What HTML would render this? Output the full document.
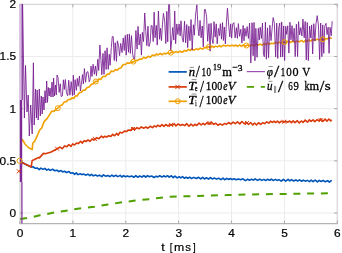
<!DOCTYPE html>
<html><head><meta charset="utf-8"><style>html,body{margin:0;padding:0;background:#fff;overflow:hidden}svg{display:block}</style></head>
<body><div style="will-change:transform"><svg width="342" height="253" viewBox="0 0 342 253">
<defs><clipPath id="cp"><rect x="18.5" y="4.3" width="318.7" height="219.3"/></clipPath></defs>
<rect width="342" height="253" fill="#fff"/>
<line x1="72.85" y1="4" x2="72.85" y2="223.6" stroke="#ececec" stroke-width="1"/>
<line x1="125.75" y1="4" x2="125.75" y2="223.6" stroke="#ececec" stroke-width="1"/>
<line x1="178.65" y1="4" x2="178.65" y2="223.6" stroke="#ececec" stroke-width="1"/>
<line x1="231.55" y1="4" x2="231.55" y2="223.6" stroke="#ececec" stroke-width="1"/>
<line x1="284.45" y1="4" x2="284.45" y2="223.6" stroke="#ececec" stroke-width="1"/>
<line x1="20.2" y1="213.00" x2="337.2" y2="213.00" stroke="#ececec" stroke-width="1"/>
<line x1="20.2" y1="160.84" x2="337.2" y2="160.84" stroke="#ececec" stroke-width="1"/>
<line x1="20.2" y1="108.67" x2="337.2" y2="108.67" stroke="#ececec" stroke-width="1"/>
<line x1="20.2" y1="56.50" x2="337.2" y2="56.50" stroke="#ececec" stroke-width="1"/>
<line x1="19.5" y1="4.3" x2="337.7" y2="4.3" stroke="#cdcdcd" stroke-width="1"/>
<line x1="337.2" y1="3.8" x2="337.2" y2="224.1" stroke="#cdcdcd" stroke-width="1"/>
<line x1="19.5" y1="223.6" x2="337.7" y2="223.6" stroke="#b4b4b4" stroke-width="1.1"/>
<line x1="20.0" y1="3.8" x2="20.0" y2="224.1" stroke="#c8c8c8" stroke-width="1"/>
<line x1="19.95" y1="223.6" x2="19.95" y2="220.6" stroke="#a8a8a8" stroke-width="1"/>
<line x1="19.95" y1="4.3" x2="19.95" y2="7.3" stroke="#a8a8a8" stroke-width="1"/>
<line x1="72.85" y1="223.6" x2="72.85" y2="220.6" stroke="#a8a8a8" stroke-width="1"/>
<line x1="72.85" y1="4.3" x2="72.85" y2="7.3" stroke="#a8a8a8" stroke-width="1"/>
<line x1="125.75" y1="223.6" x2="125.75" y2="220.6" stroke="#a8a8a8" stroke-width="1"/>
<line x1="125.75" y1="4.3" x2="125.75" y2="7.3" stroke="#a8a8a8" stroke-width="1"/>
<line x1="178.65" y1="223.6" x2="178.65" y2="220.6" stroke="#a8a8a8" stroke-width="1"/>
<line x1="178.65" y1="4.3" x2="178.65" y2="7.3" stroke="#a8a8a8" stroke-width="1"/>
<line x1="231.55" y1="223.6" x2="231.55" y2="220.6" stroke="#a8a8a8" stroke-width="1"/>
<line x1="231.55" y1="4.3" x2="231.55" y2="7.3" stroke="#a8a8a8" stroke-width="1"/>
<line x1="284.45" y1="223.6" x2="284.45" y2="220.6" stroke="#a8a8a8" stroke-width="1"/>
<line x1="284.45" y1="4.3" x2="284.45" y2="7.3" stroke="#a8a8a8" stroke-width="1"/>
<line x1="337.35" y1="223.6" x2="337.35" y2="220.6" stroke="#a8a8a8" stroke-width="1"/>
<line x1="337.35" y1="4.3" x2="337.35" y2="7.3" stroke="#a8a8a8" stroke-width="1"/>
<line x1="20.0" y1="213.00" x2="23.0" y2="213.00" stroke="#a8a8a8" stroke-width="1"/>
<line x1="337.2" y1="213.00" x2="334.2" y2="213.00" stroke="#a8a8a8" stroke-width="1"/>
<line x1="20.0" y1="160.84" x2="23.0" y2="160.84" stroke="#a8a8a8" stroke-width="1"/>
<line x1="337.2" y1="160.84" x2="334.2" y2="160.84" stroke="#a8a8a8" stroke-width="1"/>
<line x1="20.0" y1="108.67" x2="23.0" y2="108.67" stroke="#a8a8a8" stroke-width="1"/>
<line x1="337.2" y1="108.67" x2="334.2" y2="108.67" stroke="#a8a8a8" stroke-width="1"/>
<line x1="20.0" y1="56.50" x2="23.0" y2="56.50" stroke="#a8a8a8" stroke-width="1"/>
<line x1="337.2" y1="56.50" x2="334.2" y2="56.50" stroke="#a8a8a8" stroke-width="1"/>
<line x1="20.0" y1="4.34" x2="23.0" y2="4.34" stroke="#a8a8a8" stroke-width="1"/>
<line x1="337.2" y1="4.34" x2="334.2" y2="4.34" stroke="#a8a8a8" stroke-width="1"/>
<g clip-path="url(#cp)"><polyline points="20.20,218.90 27.00,218.00 32.90,216.90 39.90,215.30 46.90,214.10 55.10,212.20 60.90,211.50 68.00,210.40 73.80,209.20 81.30,208.20 87.80,207.50 94.40,206.80 100.80,205.70 107.90,204.60 114.90,203.40 121.90,202.20 128.90,201.50 135.20,200.60 141.80,199.90 149.30,199.20 156.30,198.20 163.30,197.50 169.40,196.80 195.00,196.00 227.90,195.10 260.00,194.20 293.00,193.80 328.80,193.30" fill="none" stroke="#50a000" stroke-width="2.0" stroke-dasharray="6.95 6.8"/><polyline points="21.50,161.50 22.00,162.50 31.20,167.00 33.00,166.76 34.90,168.19 37.19,167.97 39.19,169.58 40.86,168.12 42.95,169.35 44.86,168.41 46.82,170.20 48.54,169.10 50.23,170.39 52.57,169.25 54.79,170.75 56.99,170.15 58.82,171.59 61.00,170.57 62.67,171.92 64.44,171.22 66.69,172.52 69.00,171.54 70.64,173.29 72.63,172.73 74.57,174.30 76.26,172.92 77.96,174.62 80.27,173.69 81.88,174.61 83.91,174.09 85.58,175.17 87.92,174.11 89.84,175.59 91.51,174.26 93.25,175.82 95.62,174.94 97.66,176.15 99.38,175.07 101.78,176.64 103.47,174.89 105.83,176.21 107.92,175.46 109.81,176.61 111.89,175.05 113.56,176.47 115.85,175.28 117.81,176.61 120.20,175.39 121.81,176.99 123.68,175.57 125.45,176.83 127.31,175.90 129.41,176.69 131.64,176.05 133.86,177.27 135.86,175.61 137.66,177.23 139.60,175.96 141.97,177.00 143.87,175.53 145.76,177.20 147.50,175.55 149.31,176.78 151.69,176.03 154.04,177.45 156.13,176.15 157.78,176.91 159.69,175.74 162.06,177.03 163.77,175.79 165.48,176.85 167.53,175.71 169.18,177.11 171.34,175.75 173.25,177.63 174.99,176.03 177.20,177.89 179.20,176.73 180.84,177.88 182.58,176.58 184.24,178.28 186.02,177.24 187.76,178.28 189.81,177.22 191.55,178.55 193.91,177.39 196.26,178.52 198.65,177.29 200.69,178.89 202.72,177.30 204.37,179.00 206.40,177.75 208.58,179.08 210.27,177.50 212.23,178.94 214.34,178.08 216.42,179.12 218.72,178.26 220.98,179.70 223.08,178.10 224.71,179.77 226.80,178.34 228.73,179.51 230.48,178.48 232.22,179.60 234.11,178.68 236.14,179.68 238.36,178.88 240.58,179.78 242.95,178.83 245.33,180.59 247.59,179.29 249.47,180.17 251.70,179.29 253.47,180.12 255.17,178.80 257.55,180.34 259.74,179.17 261.76,180.39 263.87,179.40 265.67,180.56 267.43,179.32 269.79,180.28 271.47,179.14 273.12,180.50 275.40,179.34 277.17,180.43 278.99,179.61 281.23,181.14 283.46,179.27 285.81,181.17 288.14,179.34 289.82,180.88 291.62,179.68 293.61,181.00 295.88,179.93 297.65,181.05 299.62,179.88 301.67,181.26 303.42,180.12 305.28,181.17 307.32,180.37 309.49,181.61 311.20,180.16 313.07,181.56 315.15,180.16 317.46,181.87 319.23,180.42 321.09,181.46 323.14,180.57 325.43,181.78 327.70,180.65 329.38,182.15 331.20,180.72 331.30,181.40" fill="none" stroke="#0055b8" stroke-width="1.6" stroke-linejoin="round"/><polyline points="21.00,171.30 21.50,161.50 22.00,162.50 31.20,167.00 32.20,160.40 33.40,160.00 38.70,157.60 39.40,157.90 43.40,153.40 45.30,153.70 51.20,152.00 57.20,148.80 60.00,147.14 62.19,148.67 64.55,145.90 66.89,146.79 68.86,144.54 70.98,146.36 72.67,143.83 74.46,144.99 76.52,143.09 78.30,143.60 80.63,141.29 82.36,143.07 84.07,140.59 85.77,141.52 88.07,139.99 89.84,141.42 92.14,138.92 94.51,139.88 96.65,137.84 99.00,138.79 101.38,136.08 103.21,137.71 104.95,136.20 106.60,137.13 108.68,135.74 110.82,136.50 112.67,134.37 114.66,135.76 116.64,133.39 118.29,135.16 119.91,132.27 122.18,132.99 124.41,131.12 126.47,131.56 128.11,130.07 130.48,130.41 132.68,127.87 135.03,129.47 136.92,127.68 139.14,128.78 141.34,126.92 143.62,128.19 145.98,127.02 147.85,128.23 150.19,126.31 152.53,127.63 154.38,125.88 156.12,126.85 157.84,125.20 160.24,126.51 161.88,124.52 163.90,126.37 165.69,124.50 167.95,126.01 169.89,124.57 172.22,125.32 174.22,123.76 175.92,125.98 178.28,123.97 180.51,125.43 182.46,124.42 184.74,125.62 186.70,123.67 188.98,126.25 190.94,124.15 193.13,125.82 194.96,124.24 196.68,125.50 199.07,123.18 201.17,124.99 203.04,123.42 204.86,124.74 207.15,122.61 209.38,124.11 211.54,122.30 213.74,124.33 215.91,123.27 217.90,125.29 220.05,123.84 222.41,125.16 224.47,123.50 226.51,124.25 228.64,122.54 230.90,124.03 233.14,122.04 235.25,123.57 237.51,121.90 239.79,123.88 241.94,121.51 244.30,123.75 246.33,122.43 248.60,124.48 250.58,122.52 252.75,124.92 254.49,123.02 256.56,124.97 258.49,122.73 260.71,124.33 262.89,122.63 264.62,123.58 266.74,121.89 268.89,123.13 270.52,121.17 272.30,122.41 274.01,121.27 275.75,122.49 277.38,121.08 279.29,122.82 281.36,121.23 283.68,122.20 285.60,121.16 287.53,122.29 289.80,121.07 291.43,122.75 293.10,120.91 294.97,122.72 297.34,120.67 299.28,122.93 301.39,120.97 303.10,122.49 305.15,120.14 307.53,122.16 309.41,119.86 311.01,121.43 313.06,119.83 314.78,121.61 317.09,119.73 319.03,120.91 320.87,118.91 322.77,121.36 325.10,119.06 326.91,121.19 328.91,119.05 330.76,121.02 331.50,119.70" fill="none" stroke="#d93a0a" stroke-width="1.6" stroke-linejoin="round"/><polyline points="20.90,160.70 21.30,139.50 22.70,140.00 25.10,144.20 28.70,147.80 32.20,149.60 32.80,143.00 34.60,141.30 35.80,138.90 38.20,133.60 39.40,130.50 41.70,128.00 44.10,121.60 47.00,118.60 51.90,111.00 53.60,111.50 57.80,108.20 60.00,105.83 62.15,104.92 64.14,102.09 66.37,101.63 68.38,99.43 70.17,99.55 72.06,97.85 73.72,98.42 75.51,95.90 77.14,95.99 79.33,92.63 81.42,92.18 83.29,89.96 84.98,90.27 86.87,87.76 89.13,86.97 91.47,84.32 93.51,83.77 95.50,81.35 97.13,81.53 98.92,78.90 100.68,79.50 103.00,76.50 105.21,76.51 107.39,74.10 109.37,73.95 111.14,71.16 113.45,71.50 115.34,69.59 117.25,70.22 119.16,68.21 120.83,67.93 123.22,64.49 125.22,64.53 127.42,62.88 129.50,63.32 131.60,61.72 133.34,62.11 135.68,60.27 137.76,60.45 139.44,59.06 141.69,59.30 143.59,57.26 145.73,58.28 148.10,56.34 150.49,57.16 152.56,54.96 154.55,55.81 156.35,54.09 158.08,54.95 160.33,53.51 162.31,54.75 163.95,53.25 165.79,53.93 167.52,52.80 169.39,53.65 171.78,51.79 173.76,52.83 176.13,51.65 178.31,52.40 180.08,51.18 182.32,52.28 184.40,50.42 186.46,51.27 188.31,49.42 190.13,50.47 191.74,49.09 194.10,50.18 196.18,48.85 198.46,49.70 200.27,48.17 202.63,49.06 204.34,47.55 206.01,47.83 207.97,46.79 210.27,47.57 211.97,46.15 213.83,47.20 215.60,46.12 217.35,46.87 219.52,45.59 221.15,46.80 223.45,45.16 225.69,46.02 227.66,45.29 229.87,45.97 232.04,45.15 234.19,46.03 235.83,45.04 237.68,46.38 239.51,44.95 241.55,46.39 243.23,44.87 245.24,46.24 247.61,44.95 249.77,45.85 251.82,44.79 254.07,45.82 255.95,44.33 258.35,44.96 260.01,44.19 262.26,45.09 264.22,43.50 265.84,44.68 267.79,43.22 269.70,44.16 271.48,43.16 273.43,43.70 275.59,42.28 277.77,43.41 279.56,42.17 281.55,43.15 283.92,41.93 285.90,42.70 288.08,41.16 290.30,42.53 292.51,41.05 294.80,42.32 296.94,41.06 299.27,41.86 301.37,40.44 303.74,41.99 305.34,40.54 307.19,41.34 308.91,40.04 310.57,40.96 312.93,39.53 314.90,40.41 317.26,39.13 319.03,40.15 321.14,38.76 322.95,40.14 324.81,38.53 327.08,38.94 329.23,37.81 331.31,38.29 331.60,37.80" fill="none" stroke="#f0a000" stroke-width="1.6" stroke-linejoin="round"/><polyline points="22.60,2.00 24.40,118.00 25.50,65.50 27.00,112.00 28.20,95.00 29.30,136.00 30.70,105.00 32.20,134.00 33.40,62.80 34.20,125.00 35.50,89.00 36.40,118.00 37.20,90.00 38.20,120.00 39.30,89.00 40.30,116.00 41.30,96.00 42.20,114.00 43.00,97.00 44.00,110.00 45.00,90.70 45.80,103.00 46.70,81.00 47.50,102.40 48.30,87.50 49.20,96.00 50.00,88.00 51.00,97.00 52.00,82.00 53.00,97.00 53.60,78.00 54.50,96.00 55.50,85.00 56.30,95.00 57.00,75.00 58.05,77.49 59.13,92.41 60.27,83.79 61.16,96.57 62.45,95.76 63.37,79.81 64.30,89.47 65.35,79.50 66.43,92.69 67.73,95.74 68.72,80.22 69.91,95.15 71.19,81.64 72.45,95.59 73.34,75.16 74.23,94.91 75.13,79.68 76.34,90.36 77.27,78.38 78.18,86.33 79.46,75.99 80.41,90.99 81.30,84.77 82.50,74.53 83.39,83.99 84.41,68.60 85.52,82.27 86.78,72.22 87.96,71.69 89.21,81.76 90.07,79.45 91.04,66.08 91.97,76.50 93.07,64.27 94.33,74.27 95.38,65.94 96.49,75.72 97.78,59.33 98.69,70.52 99.86,45.00 100.93,59.49 101.81,74.68 102.99,53.34 104.00,74.39 105.04,50.70 106.17,69.50 107.06,47.81 108.23,69.33 109.28,54.25 110.15,65.32 111.31,47.70 112.27,36.60 113.22,36.60 114.26,60.53 115.20,42.68 116.45,61.42 117.36,40.87 118.53,45.31 119.58,55.63 120.72,43.42 122.01,52.57 123.25,37.96 124.24,50.47 125.29,35.41 126.21,55.16 127.34,34.30 128.50,52.28 129.35,33.90 130.33,53.35 131.45,35.64 132.71,54.22 133.62,59.00 134.64,59.00 135.91,30.50 137.09,49.10 138.03,26.38 139.13,45.09 140.36,34.12 141.46,55.13 142.34,32.38 143.54,41.50 144.72,13.00 145.79,31.74 146.88,45.71 147.96,26.17 148.98,46.47 150.22,42.33 151.16,25.71 152.02,25.49 153.23,41.54 154.11,12.08 155.08,37.75 156.30,25.39 157.23,45.08 158.43,11.00 159.59,39.27 160.49,28.27 161.45,40.65 162.47,24.19 163.41,13.40 164.65,20.88 165.83,43.56 166.82,11.43 167.73,41.83 168.63,4.40 169.53,4.40 170.69,51.00 171.77,39.53 172.70,27.45 173.80,40.07 174.73,11.10 175.63,43.68 176.82,23.95 177.87,34.50 179.10,23.96 180.13,35.86 180.98,20.83 182.22,38.19 183.30,42.10 184.56,21.19 185.59,42.83 186.79,24.54 187.67,47.58 188.81,26.10 189.96,40.68 191.05,19.55 192.21,50.15 193.39,24.76 194.33,35.21 195.59,14.35 196.89,4.75 198.01,27.85 198.93,35.90 200.05,20.45 201.14,37.83 202.28,26.01 203.27,46.88 204.46,9.50 205.33,9.50 206.59,16.90 207.67,41.34 208.96,23.71 210.09,51.19 211.00,23.29 211.97,38.49 213.06,43.55 214.01,21.65 215.15,37.13 216.25,23.83 217.18,43.81 218.43,28.43 219.47,35.62 220.35,23.69 221.49,39.16 222.49,22.54 223.40,40.52 224.34,27.12 225.36,43.90 226.46,22.12 227.47,8.30 228.58,24.04 229.77,36.83 230.66,23.84 231.64,38.17 232.65,24.06 233.92,22.59 235.13,37.85 236.40,27.63 237.41,38.39 238.35,23.60 239.58,36.32 240.82,29.24 241.92,43.02 243.13,25.49 244.02,40.85 244.91,28.33 246.05,36.31 247.13,26.58 248.42,38.44 249.59,23.06 250.82,63.00 252.04,22.74 253.13,55.78 254.04,22.48 254.97,60.73 255.84,28.36 257.04,57.26 258.30,28.35 259.25,39.98 260.20,27.15 261.39,38.55 262.46,23.01 263.46,53.99 264.33,56.75 265.42,22.26 266.37,59.17 267.54,27.84 268.54,57.73 269.84,25.24 271.03,40.61 272.25,26.98 273.15,17.60 274.38,23.43 275.64,56.89 276.73,23.10 277.72,58.44 278.73,27.96 279.79,23.05 280.65,57.08 281.70,21.92 282.65,56.86 283.63,25.93 284.60,60.51 285.70,26.30 286.59,34.30 287.76,25.78 288.88,53.12 289.91,22.24 290.99,39.76 292.01,25.63 293.04,41.49 294.19,28.24 295.19,56.58 296.40,24.19 297.59,56.50 298.51,21.62 299.68,34.88 300.81,27.68 301.92,35.94 302.93,19.04 304.19,37.81 305.16,21.47 306.28,59.88 307.24,22.53 308.33,60.62 309.61,26.02 310.79,37.96 311.65,24.91 312.67,53.98 313.78,23.70 314.93,40.93 315.99,23.79 317.18,15.66 318.42,25.03 319.67,59.52 320.67,23.03 321.85,56.66 322.73,24.88 323.76,53.41 324.74,26.27 326.00,23.35 327.04,34.66 328.15,27.14 329.05,53.29 330.04,27.36 331.26,35.70 332.13,21.69 332.40,21.15" fill="none" stroke="#761b90" stroke-width="0.85" stroke-linejoin="round"/><rect x="19.2" y="4" width="2.3" height="96" fill="#d8bfe2"/><rect x="19.8" y="100" width="2.4" height="82" fill="#7d2896"/><line x1="22.2" y1="4" x2="22.2" y2="100" stroke="#761b90" stroke-width="1.2"/><line x1="21.9" y1="182" x2="21.9" y2="223.8" stroke="#85359c" stroke-width="1.3"/></g>
<circle cx="19.50" cy="160.80" r="2.5" fill="none" stroke="#f0a000" stroke-width="1"/>
<circle cx="57.80" cy="108.20" r="2.5" fill="none" stroke="#f0a000" stroke-width="1"/>
<circle cx="95.80" cy="81.50" r="2.5" fill="none" stroke="#f0a000" stroke-width="1"/>
<circle cx="133.40" cy="61.60" r="2.5" fill="none" stroke="#f0a000" stroke-width="1"/>
<circle cx="170.70" cy="52.60" r="2.5" fill="none" stroke="#f0a000" stroke-width="1"/>
<circle cx="208.70" cy="47.00" r="2.5" fill="none" stroke="#f0a000" stroke-width="1"/>
<circle cx="246.40" cy="45.50" r="2.5" fill="none" stroke="#f0a000" stroke-width="1"/>
<circle cx="284.50" cy="42.20" r="2.5" fill="none" stroke="#f0a000" stroke-width="1"/>
<circle cx="322.80" cy="39.30" r="2.5" fill="none" stroke="#f0a000" stroke-width="1"/>
<path d="M16.90,169.30L20.90,173.30M16.90,173.30L20.90,169.30" stroke="#d93a0a" stroke-width="1"/>
<path d="M55.20,146.80L59.20,150.80M55.20,150.80L59.20,146.80" stroke="#d93a0a" stroke-width="1"/>
<path d="M92.90,136.90L96.90,140.90M92.90,140.90L96.90,136.90" stroke="#d93a0a" stroke-width="1"/>
<path d="M131.00,127.00L135.00,131.00M131.00,131.00L135.00,127.00" stroke="#d93a0a" stroke-width="1"/>
<path d="M169.00,122.90L173.00,126.90M169.00,126.90L173.00,122.90" stroke="#d93a0a" stroke-width="1"/>
<path d="M207.50,121.00L211.50,125.00M207.50,125.00L211.50,121.00" stroke="#d93a0a" stroke-width="1"/>
<path d="M245.00,121.00L249.00,125.00M245.00,125.00L249.00,121.00" stroke="#d93a0a" stroke-width="1"/>
<path d="M282.30,119.80L286.30,123.80M282.30,123.80L286.30,119.80" stroke="#d93a0a" stroke-width="1"/>
<path d="M318.50,118.20L322.50,122.20M318.50,122.20L322.50,118.20" stroke="#d93a0a" stroke-width="1"/>
<line x1="168.6" y1="71.9" x2="186.8" y2="71.9" stroke="#0055b8" stroke-width="1.7"/>
<line x1="168.6" y1="86.9" x2="186.8" y2="86.9" stroke="#d93a0a" stroke-width="1.7"/>
<path d="M175.4,84.8L179.6,89.0M175.4,89.0L179.6,84.8" stroke="#d93a0a" stroke-width="1"/>
<line x1="168.6" y1="101.3" x2="186.8" y2="101.3" stroke="#f0a000" stroke-width="1.7"/>
<circle cx="177.8" cy="101.3" r="2.5" fill="none" stroke="#f0a000" stroke-width="1"/>
<line x1="246.8" y1="71.6" x2="264.9" y2="71.6" stroke="#9a50b4" stroke-width="1.2"/>
<line x1="246.8" y1="86.9" x2="264.9" y2="86.9" stroke="#50a000" stroke-width="1.8" stroke-dasharray="7.3 6.7"/>
<text transform="translate(9.48,216.83) scale(1.0700,1)" font-family="Liberation Sans" font-size="11.100" fill="#000" stroke="#000" stroke-width="0.2">0</text>
<text transform="translate(-0.43,164.66) scale(1.0700,1)" font-family="Liberation Sans" font-size="11.100" fill="#000" stroke="#000" stroke-width="0.2">0.5</text>
<text transform="translate(9.60,112.50) scale(1.0700,1)" font-family="Liberation Sans" font-size="11.100" fill="#000" stroke="#000" stroke-width="0.2">1</text>
<text transform="translate(-0.43,60.28) scale(1.0700,1)" font-family="Liberation Sans" font-size="11.100" fill="#000" stroke="#000" stroke-width="0.2">1.5</text>
<text transform="translate(9.60,8.23) scale(1.0700,1)" font-family="Liberation Sans" font-size="11.100" fill="#000" stroke="#000" stroke-width="0.2">2</text>
<text transform="translate(16.65,237.09) scale(1.0700,1)" font-family="Liberation Sans" font-size="11.100" fill="#000" stroke="#000" stroke-width="0.2">0</text>
<text transform="translate(69.41,237.20) scale(1.0700,1)" font-family="Liberation Sans" font-size="11.100" fill="#000" stroke="#000" stroke-width="0.2">1</text>
<text transform="translate(122.45,237.20) scale(1.0700,1)" font-family="Liberation Sans" font-size="11.100" fill="#000" stroke="#000" stroke-width="0.2">2</text>
<text transform="translate(175.38,237.09) scale(1.0700,1)" font-family="Liberation Sans" font-size="11.100" fill="#000" stroke="#000" stroke-width="0.2">3</text>
<text transform="translate(228.28,237.20) scale(1.0700,1)" font-family="Liberation Sans" font-size="11.100" fill="#000" stroke="#000" stroke-width="0.2">4</text>
<text transform="translate(281.15,237.09) scale(1.0700,1)" font-family="Liberation Sans" font-size="11.100" fill="#000" stroke="#000" stroke-width="0.2">5</text>
<text transform="translate(334.02,237.09) scale(1.0700,1)" font-family="Liberation Sans" font-size="11.100" fill="#000" stroke="#000" stroke-width="0.2">6</text>
<text transform="translate(161.21,251.40) scale(1.0818,1)" font-family="Liberation Sans" font-size="11.60" fill="#000" stroke="#000" stroke-width="0.2">t</text>
<text transform="translate(169.84,251.40) scale(0.8190,1)" font-family="Liberation Sans" font-size="11.60" fill="#000" stroke="#000" stroke-width="0.2">[</text>
<text transform="translate(174.10,251.40) scale(1.0591,1)" font-family="Liberation Sans" font-size="11.60" fill="#000" stroke="#000" stroke-width="0.2">m</text>
<text transform="translate(185.26,251.40) scale(0.9909,1)" font-family="Liberation Sans" font-size="11.60" fill="#000" stroke="#000" stroke-width="0.2">s</text>
<text transform="translate(193.00,251.40) scale(0.8400,1)" font-family="Liberation Sans" font-size="11.60" fill="#000" stroke="#000" stroke-width="0.2">]</text>
<text transform="translate(188.76,75.50) scale(1.0588,1)" font-family="Liberation Serif" font-size="12.00" fill="#000" stroke="#000" stroke-width="0.3" font-style="italic">n</text>
<text transform="translate(195.80,77.43) scale(0.8485,1)" font-family="Liberation Serif" font-size="17.14" fill="#000" stroke="#000" stroke-width="0.3">/</text>
<text transform="translate(201.58,75.50) scale(0.7619,1)" font-family="Liberation Serif" font-size="12.00" fill="#000" stroke="#000" stroke-width="0.3">1</text>
<text transform="translate(206.44,75.50) scale(0.7540,1)" font-family="Liberation Serif" font-size="12.00" fill="#000" stroke="#000" stroke-width="0.3">0</text>
<text transform="translate(213.08,70.30) scale(0.9524,1)" font-family="Liberation Serif" font-size="8.40" fill="#000" stroke="#000" stroke-width="0.3">1</text>
<text transform="translate(217.36,70.30) scale(0.9413,1)" font-family="Liberation Serif" font-size="8.40" fill="#000" stroke="#000" stroke-width="0.3">9</text>
<text transform="translate(222.25,75.50) scale(1.0360,1)" font-family="Liberation Serif" font-size="12.00" fill="#000" stroke="#000" stroke-width="0.3">m</text>
<text transform="translate(232.41,70.30) scale(1.1777,1)" font-family="Liberation Serif" font-size="8.40" fill="#000" stroke="#000" stroke-width="0.3">−</text>
<text transform="translate(237.82,70.90) scale(1.1324,1)" font-family="Liberation Serif" font-size="8.40" fill="#000" stroke="#000" stroke-width="0.3">3</text>
<text transform="translate(188.21,89.50) scale(1.1364,1)" font-family="Liberation Serif" font-size="12.00" fill="#000" stroke="#000" stroke-width="0.3" font-style="italic">T</text>
<text transform="translate(194.65,91.40) scale(0.7400,1)" font-family="Liberation Serif" font-size="8.40" fill="#000" stroke="#000" stroke-width="0.3">e</text>
<text transform="translate(199.90,92.12) scale(0.8197,1)" font-family="Liberation Serif" font-size="17.74" fill="#000" stroke="#000" stroke-width="0.3">/</text>
<text transform="translate(205.70,89.50) scale(0.9286,1)" font-family="Liberation Serif" font-size="12.00" fill="#000" stroke="#000" stroke-width="0.3">1</text>
<text transform="translate(211.54,89.50) scale(0.9524,1)" font-family="Liberation Serif" font-size="12.00" fill="#000" stroke="#000" stroke-width="0.3">0</text>
<text transform="translate(217.20,89.50) scale(0.8333,1)" font-family="Liberation Serif" font-size="12.00" fill="#000" stroke="#000" stroke-width="0.3">0</text>
<text transform="translate(223.21,89.50) scale(0.8120,1)" font-family="Liberation Serif" font-size="12.00" fill="#000" stroke="#000" stroke-width="0.3" font-style="italic">e</text>
<text transform="translate(227.81,89.50) scale(1.0385,1)" font-family="Liberation Serif" font-size="12.00" fill="#000" stroke="#000" stroke-width="0.3" font-style="italic">V</text>
<text transform="translate(188.21,103.90) scale(1.1364,1)" font-family="Liberation Serif" font-size="12.00" fill="#000" stroke="#000" stroke-width="0.3" font-style="italic">T</text>
<text transform="translate(195.30,105.80) scale(0.5952,1)" font-family="Liberation Serif" font-size="8.40" fill="#000" stroke="#000" stroke-width="0.3">i</text>
<text transform="translate(199.40,106.52) scale(0.8197,1)" font-family="Liberation Serif" font-size="17.74" fill="#000" stroke="#000" stroke-width="0.3">/</text>
<text transform="translate(205.70,103.90) scale(0.9286,1)" font-family="Liberation Serif" font-size="12.00" fill="#000" stroke="#000" stroke-width="0.3">1</text>
<text transform="translate(211.54,103.90) scale(0.9524,1)" font-family="Liberation Serif" font-size="12.00" fill="#000" stroke="#000" stroke-width="0.3">0</text>
<text transform="translate(217.20,103.90) scale(0.8333,1)" font-family="Liberation Serif" font-size="12.00" fill="#000" stroke="#000" stroke-width="0.3">0</text>
<text transform="translate(223.21,103.90) scale(0.8120,1)" font-family="Liberation Serif" font-size="12.00" fill="#000" stroke="#000" stroke-width="0.3" font-style="italic">e</text>
<text transform="translate(227.81,103.90) scale(1.0385,1)" font-family="Liberation Serif" font-size="12.00" fill="#000" stroke="#000" stroke-width="0.3" font-style="italic">V</text>
<text transform="translate(266.77,75.50) scale(0.9259,1)" font-family="Liberation Serif" font-size="12.00" fill="#000" stroke="#000" stroke-width="0.3" font-style="italic">φ</text>
<text transform="translate(273.90,77.43) scale(1.1030,1)" font-family="Liberation Serif" font-size="17.14" fill="#000" stroke="#000" stroke-width="0.3">/</text>
<text transform="translate(280.70,75.50) scale(0.7381,1)" font-family="Liberation Serif" font-size="12.00" fill="#000" stroke="#000" stroke-width="0.3">1</text>
<text transform="translate(286.36,75.50) scale(0.9127,1)" font-family="Liberation Serif" font-size="12.00" fill="#000" stroke="#000" stroke-width="0.3">0</text>
<text transform="translate(292.41,75.50) scale(1.0119,1)" font-family="Liberation Serif" font-size="12.00" fill="#000" stroke="#000" stroke-width="0.3">0</text>
<text transform="translate(302.29,75.50) scale(0.9286,1)" font-family="Liberation Serif" font-size="12.00" fill="#000" stroke="#000" stroke-width="0.3">V</text>
<text transform="translate(266.95,89.50) scale(0.9237,1)" font-family="Liberation Serif" font-size="12.00" fill="#000" stroke="#000" stroke-width="0.3" font-style="italic">u</text>
<text transform="translate(273.13,93.00) scale(1.2432,1)" font-family="Liberation Serif" font-size="10.72" fill="#555">‖</text>
<text transform="translate(278.10,91.83) scale(1.0632,1)" font-family="Liberation Serif" font-size="17.44" fill="#000" stroke="#000" stroke-width="0.3">/</text>
<text transform="translate(288.20,89.50) scale(0.7451,1)" font-family="Liberation Serif" font-size="12.00" fill="#000" stroke="#000" stroke-width="0.3">6</text>
<text transform="translate(293.48,89.50) scale(0.8915,1)" font-family="Liberation Serif" font-size="12.00" fill="#000" stroke="#000" stroke-width="0.3">9</text>
<text transform="translate(304.40,89.50) scale(0.8160,1)" font-family="Liberation Serif" font-size="12.00" fill="#000" stroke="#000" stroke-width="0.3">k</text>
<text transform="translate(309.45,89.50) scale(1.0248,1)" font-family="Liberation Serif" font-size="12.00" fill="#000" stroke="#000" stroke-width="0.3">m</text>
<text transform="translate(319.50,92.43) scale(1.0272,1)" font-family="Liberation Serif" font-size="16.99" fill="#000" stroke="#000" stroke-width="0.3">/</text>
<text transform="translate(324.79,89.50) scale(1.2698,1)" font-family="Liberation Serif" font-size="12.00" fill="#000" stroke="#000" stroke-width="0.3">s</text>
<line x1="189.6" y1="67.4" x2="193.8" y2="67.4" stroke="#333" stroke-width="0.55"/>
<line x1="191.6" y1="79.6" x2="196.4" y2="79.6" stroke="#333" stroke-width="0.55"/>
<line x1="191.6" y1="94.0" x2="196.4" y2="94.0" stroke="#333" stroke-width="0.55"/>
<line x1="268.6" y1="66.5" x2="272.8" y2="66.5" stroke="#333" stroke-width="0.55"/>
<line x1="268.6" y1="81.3" x2="272.4" y2="81.3" stroke="#333" stroke-width="0.55"/>
</svg></div></body></html>
